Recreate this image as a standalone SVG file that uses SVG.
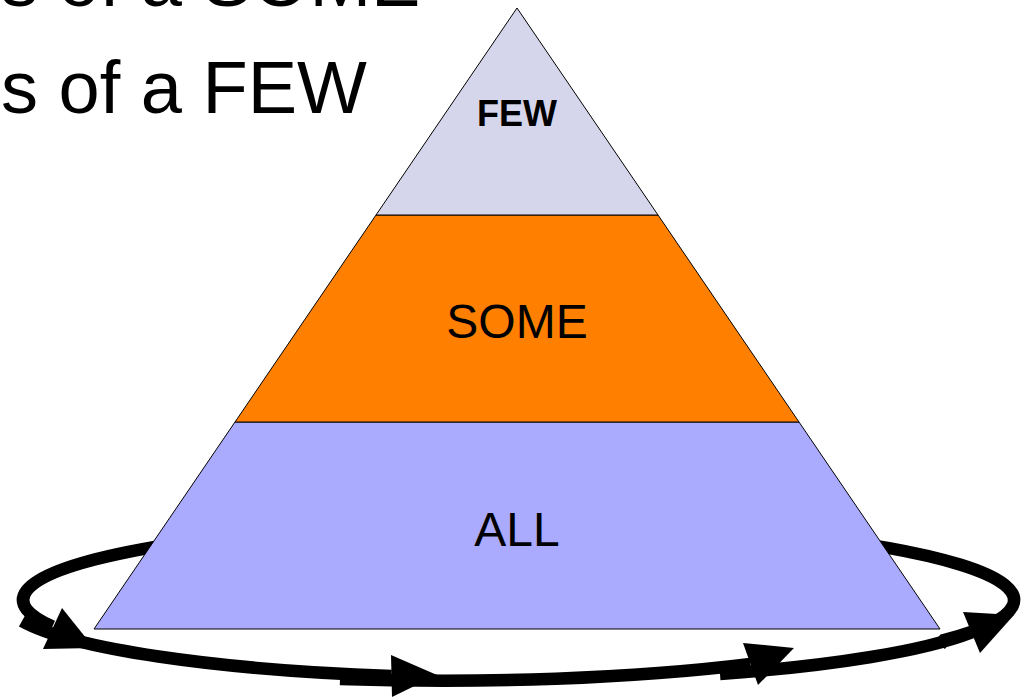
<svg xmlns="http://www.w3.org/2000/svg" width="1027" height="697" viewBox="0 0 1027 697">
<style>
.title{font-family:"Liberation Sans",Arial,sans-serif;font-size:74px;fill:#000}
.lbl{font-family:"Liberation Sans",Arial,sans-serif;font-size:48px;fill:#000;text-anchor:middle}
.lblb{font-family:"Liberation Sans",Arial,sans-serif;font-size:36px;font-weight:bold;fill:#000;text-anchor:middle}
.band{stroke:#000;stroke-width:1;stroke-linejoin:miter}
.loop{fill:none;stroke:#000;stroke-width:12.5;stroke-linecap:butt}
.head{fill:#000}
</style>
<rect width="1027" height="697" fill="#fff"/>
<g id="title">
<text class="title" x="1" y="6">s of a SOME</text>
<text class="title" x="1" y="113">s of a FEW</text>
</g>
<g id="connectors">
<path class="loop" d="M 22 621 A 495.5 78 0 0 0 391.5 676"/>
<path class="loop" d="M 340 679 A 495.5 78 0 0 0 750.5 664"/>
<path class="loop" d="M 720 674 A 495.5 78 0 0 0 971.5 632.5"/>
<path class="loop" d="M 940 645 L 944 640 A 495.5 78 0 1 0 52.5 626.5"/>
<polygon class="head" points="62,608 43,649 94,648"/>
<polygon class="head" points="391,655 392,697 437,675"/>
<polygon class="head" points="743,643 758,685 794,648"/>
<polygon class="head" points="963,612 980,653 1014,615"/>
</g>
<g id="node-all">
<polygon class="band" points="235,422 799,422 940,629 94,629" fill="#AAAAFF"/>
<text class="lbl" x="517" y="546">ALL</text>
</g>
<g id="node-some">
<polygon class="band" points="376,215 658,215 799,422 235,422" fill="#FF7F00"/>
<text class="lbl" x="517" y="338">SOME</text>
</g>
<g id="node-few">
<polygon class="band" points="517,8 658,215 376,215" fill="#D5D5EB"/>
<text class="lblb" x="517" y="126">FEW</text>
</g>
</svg>
